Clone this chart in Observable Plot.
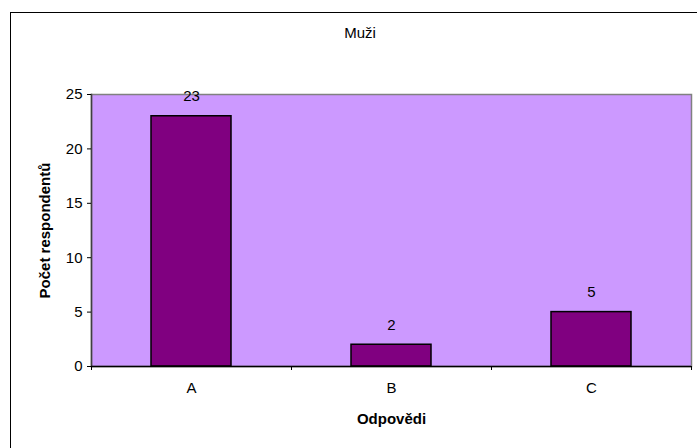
<!DOCTYPE html>
<html>
<head>
<meta charset="utf-8">
<script src="https://cdn.jsdelivr.net/npm/d3@7"></script>
<script src="https://cdn.jsdelivr.net/npm/@observablehq/plot@0.6"></script>
<style>
  html, body { margin: 0; padding: 0; background: #fff; }
  #wrap { position: relative; width: 697px; height: 448px; overflow: hidden; font-family: "Liberation Sans", Arial, sans-serif; }
  #border { position: absolute; left: 10px; top: 12px; width: 710px; height: 460px; border: 1.5px solid #000; box-sizing: border-box; }
  #title { position: absolute; left: 260px; width: 200px; top: 24px; text-align: center; font-size: 15px; color: #000; }
  #chart { position: absolute; left: 0; top: 0; }
  #chart svg { font-family: "Liberation Sans", Arial, sans-serif; }
  g[aria-label="x-axis label"] text, g[aria-label="y-axis label"] text { font-weight: bold; }
</style>
</head>
<body>
<div id="wrap">
  <div id="border"></div>
  <div id="title"></div>
  <div id="chart"></div>
</div>
<script>
const title = "Muži";
const categories = ["A", "B", "C"];
const values = [23, 2, 5];
const yTicks = [0, 5, 10, 15, 20, 25];
const xLabel = "Odpovědi";
const yLabel = "Počet respondentů";

document.getElementById("title").textContent = title;
const data = categories.map((c, i) => ({cat: c, val: values[i]}));

const chart = Plot.plot({
  width: 697,
  height: 448,
  marginLeft: 91,
  marginRight: 6,
  marginTop: 94,
  marginBottom: 82,
  style: {fontSize: "15px", color: "#000", background: "transparent", overflow: "visible"},
  x: {domain: categories, paddingInner: 0.6, paddingOuter: 0.3},
  y: {domain: [0, 25]},
  marks: [
    Plot.frame({fill: "#CC99FF", stroke: "#808080", strokeWidth: 1.5}),
    Plot.frame({anchor: "left", stroke: "#404040", strokeWidth: 1.5}),
    Plot.barY(data, {x: "cat", y: "val", fill: "#800080", stroke: "#000", strokeWidth: 1.5}),
    Plot.ruleY([0], {stroke: "#000", strokeWidth: 1.5}),
    Plot.text(data, {x: "cat", y: "val", text: d => String(d.val), dy: -20, fontSize: 15, fill: "#000"}),
    Plot.axisY(yTicks, {tickSize: 4, tickPadding: 5, fontSize: 15, label: yLabel, labelAnchor: "center", labelArrow: "none", labelOffset: 52, stroke: "#000"}),
    Plot.axisX(categories, {tickSize: 4, dx: -100, tickFormat: null, label: null, stroke: "#000"}),
    Plot.axisX(categories.slice(-1), {tickSize: 4, dx: 100, tickFormat: null, label: null, stroke: "#000"}),
    Plot.axisX(categories, {tickSize: 0, tickPadding: 16, fontSize: 15, label: xLabel, labelAnchor: "center", labelArrow: "none", labelOffset: 57})
  ]
});
document.getElementById("chart").appendChild(chart);
</script>
</body>
</html>
